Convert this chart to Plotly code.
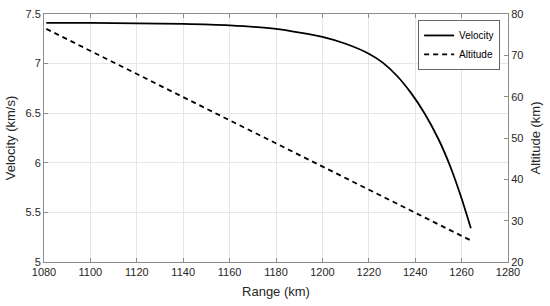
import plotly.graph_objects as go
from plotly.subplots import make_subplots

range_km = [1081, 1100, 1120, 1140, 1160, 1180, 1200, 1210, 1220, 1226, 1232, 1238,
            1244, 1250, 1255, 1260, 1264]
velocity = [7.41, 7.41, 7.405, 7.40, 7.385, 7.35, 7.27, 7.20, 7.10, 7.01, 6.88, 6.71,
            6.50, 6.24, 5.97, 5.64, 5.34]

alt_range_km = [1081, 1160, 1264]
altitude = [76.4, 54.3, 25.2]

font = dict(family="Liberation Sans, Arial", size=11, color="#262626")
grid = "#e6e6e6"
axis_col = "#8c8c8c"

fig = make_subplots(specs=[[{"secondary_y": True}]])
fig.add_trace(go.Scatter(x=range_km, y=velocity, mode='lines', name='Velocity',
                         line=dict(color='black', width=1.8, shape='spline', smoothing=0.6)),
              secondary_y=False)
fig.add_trace(go.Scatter(x=alt_range_km, y=altitude, mode='lines', name='Altitude',
                         line=dict(color='black', width=1.8, dash='5px,4px')), secondary_y=True)

fig.update_layout(
    width=550, height=306, margin=dict(l=44, r=42, t=14, b=44),
    plot_bgcolor='white', paper_bgcolor='white', font=font,
    legend=dict(x=0.983, y=0.976, xanchor='right', yanchor='top',
                bgcolor='white', bordercolor='#666666', borderwidth=1,
                font=dict(size=10, color='black'), tracegroupgap=0),
)
fig.update_xaxes(range=[1080, 1280], dtick=20, showgrid=True, gridcolor=grid, domain=[0, 1],
                 showline=True, linecolor=axis_col, linewidth=1, mirror='ticks',
                 ticks='inside', ticklen=4, tickcolor=axis_col, automargin=False,
                 title=dict(text='Range (km)', standoff=9), zeroline=False)
fig.update_yaxes(range=[5, 7.5], dtick=0.5, showgrid=True, gridcolor=grid,
                 showline=True, linecolor=axis_col, linewidth=1, automargin=False,
                 ticks='inside', ticklen=4, tickcolor=axis_col, zeroline=False,
                 title=dict(text='Velocity (km/s)', standoff=6), secondary_y=False)
fig.update_yaxes(range=[20, 80], dtick=10, showgrid=False, automargin=False,
                 showline=True, linecolor=axis_col, linewidth=1,
                 ticks='inside', ticklen=4, tickcolor=axis_col, zeroline=False,
                 title=dict(text='Altitude (km)', standoff=8), secondary_y=True)

# drop the default 8px body margin so the figure fills the window
fig.write_html("out.html", config={'displayModeBar': False},
               post_script="document.body.style.margin='0';")
